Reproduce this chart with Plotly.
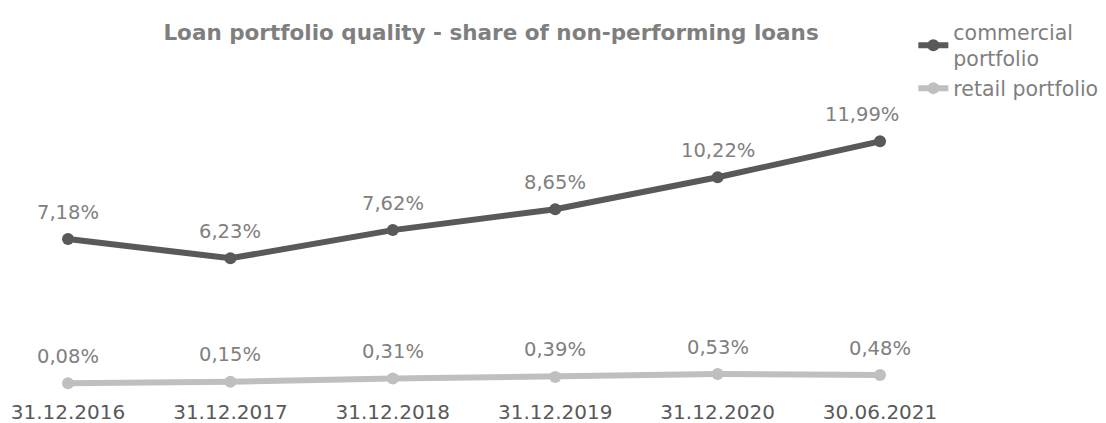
import plotly.graph_objects as go

categories = ["31.12.2016", "31.12.2017", "31.12.2018", "31.12.2019", "31.12.2020", "30.06.2021"]
commercial = [7.18, 6.23, 7.62, 8.65, 10.22, 11.99]
retail = [0.08, 0.15, 0.31, 0.39, 0.53, 0.48]

def fmt(v):
    return f"{v:.2f}".replace(".", ",") + "%"

FONT = "DejaVu Sans, Verdana, sans-serif"

fig = go.Figure()
fig.add_trace(go.Scatter(
    x=categories, y=commercial, name="commercial<br>portfolio",
    mode="lines+markers",
    line=dict(color="#595959", width=6),
    marker=dict(color="#595959", size=12),
))
fig.add_trace(go.Scatter(
    x=categories, y=retail, name="retail portfolio",
    mode="lines+markers",
    line=dict(color="#bfbfbf", width=6),
    marker=dict(color="#bfbfbf", size=12),
))

annotations = []
for series in (commercial, retail):
    for i, (c, v) in enumerate(zip(categories, series)):
        annotations.append(dict(
            x=c, y=v, text=fmt(v), showarrow=False,
            yshift=27, xshift=(-18 if (series is commercial and i == len(categories) - 1) else 0),
            font=dict(family=FONT, size=19.5, color="#808080"),
        ))

fig.update_layout(
    width=1106, height=423,
    paper_bgcolor="white", plot_bgcolor="white",
    margin=dict(l=30, r=206, t=131, b=28, autoexpand=False),
    title=dict(
        text="<b>Loan portfolio quality - share of non-performing loans</b>",
        x=0.444, xanchor="center", y=1 - 32 / 423, yanchor="middle",
        font=dict(family=FONT, size=21.5, color="#7f7f7f"),
    ),
    legend=dict(
        x=0.8258, xanchor="left", y=1 - 12 / 423, yanchor="top", xref="container", yref="container",
        font=dict(family=FONT, size=20.5, color="#7f7f7f"),
        bgcolor="rgba(0,0,0,0)", tracegroupgap=0,
    ),
    xaxis=dict(
        type="category", range=[-0.234, 5.123],
        showgrid=False, zeroline=False, showline=False, ticks="",
        tickfont=dict(family=FONT, size=20, color="#595959"),
        ticklabelstandoff=3,
    ),
    yaxis=dict(
        range=[-0.5, 12.5], visible=False, showgrid=False, zeroline=False,
    ),
    annotations=annotations,
    showlegend=True,
)

fig.write_html(
    "out.html",
    config={"displayModeBar": False},
    post_script="document.body.style.margin='0';document.body.style.overflow='hidden';",
)
